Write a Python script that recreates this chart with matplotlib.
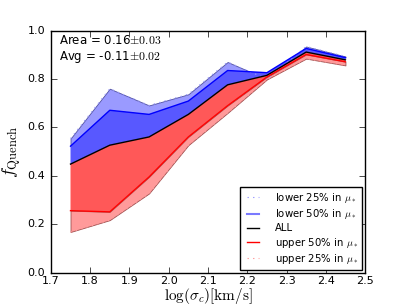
'''Quenched fraction vs velocity dispersion.'''
import matplotlib as mpl
mpl.use('Agg')
import matplotlib.pyplot as plt
import numpy as np

# bin centres in log(sigma_c)
log_sigma = [1.75, 1.85, 1.95, 2.05, 2.15, 2.25, 2.35, 2.45]

# quenched fractions
f_lower25 = [0.554, 0.760, 0.691, 0.737, 0.870, 0.800, 0.934, 0.893]
f_lower50 = [0.523, 0.671, 0.654, 0.709, 0.835, 0.826, 0.926, 0.888]
f_all = [0.449, 0.527, 0.561, 0.654, 0.776, 0.815, 0.911, 0.879]
f_upper50 = [0.257, 0.252, 0.396, 0.561, 0.690, 0.808, 0.901, 0.871]
f_upper25 = [0.169, 0.218, 0.328, 0.527, 0.660, 0.798, 0.884, 0.856]

area_text = r'Area = 0.16$\pm0.03$'
avg_text = r'Avg = -0.11$\pm0.02$'


def make_plot():
    '''Draw the shaded quenched fraction bands.'''
    plt.style.use('classic')
    plt.rcParams['figure.facecolor'] = 'white'
    plt.rcParams['savefig.facecolor'] = 'white'
    plt.rcParams['xtick.labelsize'] = 8
    plt.rcParams['ytick.labelsize'] = 8

    fig = plt.figure(figsize=(4.07, 3.05), dpi=100)
    ax = fig.add_subplot(111)
    x = np.array(log_sigma)

    ax.fill_between(x, f_lower25, f_lower50, facecolor='#9a9aff',
                    edgecolor='#5050a0', linewidth=0.6)
    ax.fill_between(x, f_lower50, f_all, facecolor='#5858ff',
                    edgecolor='none')
    ax.fill_between(x, f_all, f_upper50, facecolor='#ff5858',
                    edgecolor='none')
    ax.fill_between(x, f_upper50, f_upper25, facecolor='#ff9a9a',
                    edgecolor='#a05050', linewidth=0.6)

    ax.plot(x, f_lower25, color='#9a9aff', ls=':', lw=0.8,
            label=r'lower 25% in $\mu_*$')
    ax.plot(x, f_lower50, color='b', lw=1.0)
    ax.plot([], [], color='#7a7aff', lw=1.5, label=r'lower 50% in $\mu_*$')
    ax.plot(x, f_all, color='k', lw=1.0, label='ALL')
    ax.plot(x, f_upper50, color='r', lw=1.0, label=r'upper 50% in $\mu_*$')
    ax.plot(x, f_upper25, color='#ff9a9a', ls=':', lw=0.8,
            label=r'upper 25% in $\mu_*$')

    ax.text(0.025, 0.985, area_text, transform=ax.transAxes, fontsize=8.5,
            va='top', ha='left')
    ax.text(0.025, 0.925, avg_text, transform=ax.transAxes, fontsize=8.5,
            va='top', ha='left')

    ax.set_xlim(1.7, 2.5)
    ax.set_ylim(0.0, 1.0)
    ax.set_xticks(np.arange(1.7, 2.51, 0.1))
    ax.set_yticks(np.arange(0.0, 1.01, 0.2))
    ax.tick_params(axis='x', pad=2)
    ax.set_xlabel(r'$\log(\sigma_c)[\mathrm{km/s}]$', fontsize=11,
                  labelpad=0)
    ax.set_ylabel(r'$f_{\rm Quench}$', fontsize=13, labelpad=3)
    ax.legend(loc='lower right', fontsize=7.3, numpoints=2,
              handlelength=1.8, handletextpad=1.2, borderaxespad=0.3,
              labelspacing=0.22)

    fig.subplots_adjust(left=0.125, right=0.897, bottom=0.105, top=0.9)
    fig.savefig('out.png', dpi=100)


if __name__ == '__main__':
    make_plot()
